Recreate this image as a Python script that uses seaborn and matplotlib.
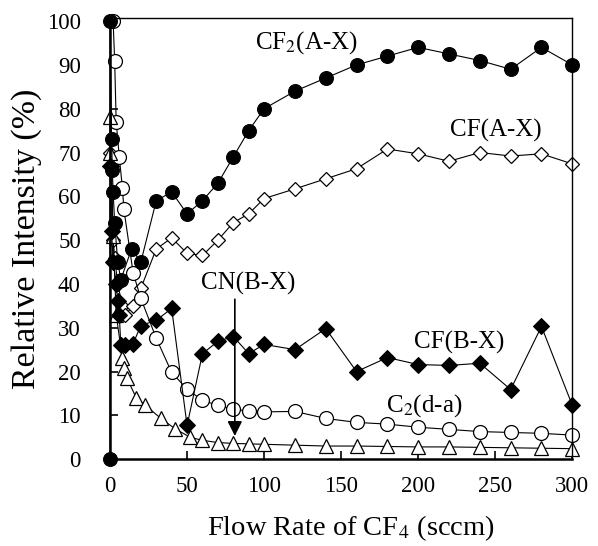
import matplotlib
matplotlib.use("Agg")
import matplotlib.pyplot as plt
import seaborn as sns

# ---- data ----
flow_cf2 = [0, 0, 1, 1.5, 2, 3, 5, 7, 14, 20, 30, 40, 50, 60, 70, 80, 90, 100,
            120, 140, 160, 180, 200, 220, 240, 260, 280, 300]
cf2_ax = [0, 100, 73, 66, 61, 54, 45, 41, 48, 45, 59, 61, 56, 59, 63, 69, 75, 80,
          84, 87, 90, 92, 94, 92.5, 91, 89, 94, 90]

flow_cfa = [0, 1, 2, 3, 5, 8, 10, 15, 20, 30, 40, 50, 60, 70, 80, 90, 100,
            120, 140, 160, 180, 200, 220, 240, 260, 280, 300]
cf_ax = [70, 67, 50, 46, 40, 35, 33, 35, 39, 48, 50.5, 47, 46.5, 50, 54, 56, 59.5,
         61.7, 64, 66.3, 70.8, 69.7, 68, 70, 69.2, 69.7, 67.4]

flow_c2 = [2, 3, 4, 6, 8, 9, 15, 20, 30, 40, 50, 60, 70, 80, 90, 100,
           120, 140, 160, 180, 200, 220, 240, 260, 280, 300]
c2_da = [100, 91, 77, 69, 62, 57, 42.5, 36.7, 27.6, 19.8, 16, 13.4, 12.3, 11.4, 11, 10.8,
         10.9, 9.3, 8.4, 8.0, 7.3, 6.8, 6.3, 6.1, 5.9, 5.5]

flow_cn = [0, 0, 2, 4, 8, 9, 11, 17, 23, 33, 42, 52, 60, 70, 80, 90, 100,
           120, 140, 160, 180, 200, 220, 240, 260, 280, 300]
cn_bx = [78, 70, 51, 33, 23, 20.7, 18.5, 14, 12.3, 9.3, 7, 5, 4.3, 3.8, 3.6, 3.5, 3.4,
         3.2, 3.0, 3.0, 2.9, 2.8, 2.8, 2.7, 2.6, 2.5, 2.4]

flow_cfb = [0, 1, 2, 4, 5, 6, 7, 10, 15, 20, 30, 40, 50, 60, 70, 80, 90, 100,
            120, 140, 160, 180, 200, 220, 240, 260, 280, 300]
cf_bx = [67, 52, 45, 40, 36, 33, 26, 26, 26.4, 30.5, 31.7, 34.4, 7.7, 24.1, 26.9, 28, 24.1, 26.2,
         25, 29.8, 20, 23.2, 21.6, 21.4, 21.9, 15.9, 30.3, 12.3]

x_ticks = [0, 50, 100, 150, 200, 250, 300]
y_ticks = [0, 10, 20, 30, 40, 50, 60, 70, 80, 90, 100]

# ---- styling ----
sns.set_theme(style="white")
plt.rcParams["font.family"] = ["Liberation Serif", "DejaVu Serif"]
plt.rcParams["mathtext.fontset"] = "stix"

fig = plt.figure(figsize=(5.98, 5.46), dpi=100)
ax = fig.add_axes([0.184, 0.159, 0.773, 0.808])

common = dict(estimator=None, sort=False, color="black", linewidth=0.8, ax=ax,
              clip_on=False)

sns.lineplot(x=flow_cfa, y=cf_ax, marker="D", markersize=7, markerfacecolor="white",
             markeredgecolor="black", markeredgewidth=0.9, **common)
sns.lineplot(x=flow_c2, y=c2_da, marker="o", markersize=10, markerfacecolor="white",
             markeredgecolor="black", markeredgewidth=0.9, **common)
sns.lineplot(x=flow_cn, y=cn_bx, marker="^", markersize=10, markerfacecolor="white",
             markeredgecolor="black", markeredgewidth=0.9, **common)
sns.lineplot(x=flow_cfb, y=cf_bx, marker="D", markersize=8, markerfacecolor="black",
             markeredgecolor="black", **common)
sns.lineplot(x=flow_cf2, y=cf2_ax, marker="o", markersize=10, markerfacecolor="black",
             markeredgecolor="black", **common)

ax.set_xlim(0, 300)
ax.set_ylim(0, 100.7)
ax.set_xticks(x_ticks)
ax.set_yticks(y_ticks)
ax.set_xticklabels([str(t) for t in x_ticks])
ax.set_yticklabels([str(t) for t in y_ticks])
ax.tick_params(axis="both", which="both", direction="in", length=6, width=1.2,
               labelsize=16.5, colors="black", top=False, right=False,
               bottom=True, left=True)
ax.tick_params(axis="y", pad=21)
ax.tick_params(axis="x", pad=12)
for s in ax.spines.values():
    s.set_visible(True)
    s.set_color("black")
    s.set_linewidth(1.0)
ax.spines["left"].set_linewidth(1.8)
ax.spines["bottom"].set_linewidth(1.8)
ax.grid(False)

ax.set_xlabel(r"Flow Rate of CF$_4$ (sccm)", fontsize=20.5, color="black")
ax.set_ylabel("Relative Intensity (%)", fontsize=24.5, color="black")
ax.xaxis.set_label_coords(0.522, -0.122)
ax.yaxis.set_label_coords(-0.147, 0.5)

tkw = dict(fontsize=18, color="black", va="center", ha="left")
ax.text(94, 95, r"CF$_2$(A-X)", **tkw)
ax.text(220.5, 75, "CF(A-X)", **tkw)
ax.text(59, 40, "CN(B-X)", **tkw)
ax.text(197, 26.6, "CF(B-X)", **tkw)
ax.text(179, 12.3, r"C$_2$(d-a)", **tkw)

ax.annotate("", xy=(81, 5.3), xytext=(81, 36.5),
            arrowprops=dict(arrowstyle="-|>", color="black", lw=1.2,
                            mutation_scale=22, shrinkA=0, shrinkB=0))

fig.savefig("out.png", dpi=100, facecolor="white")
